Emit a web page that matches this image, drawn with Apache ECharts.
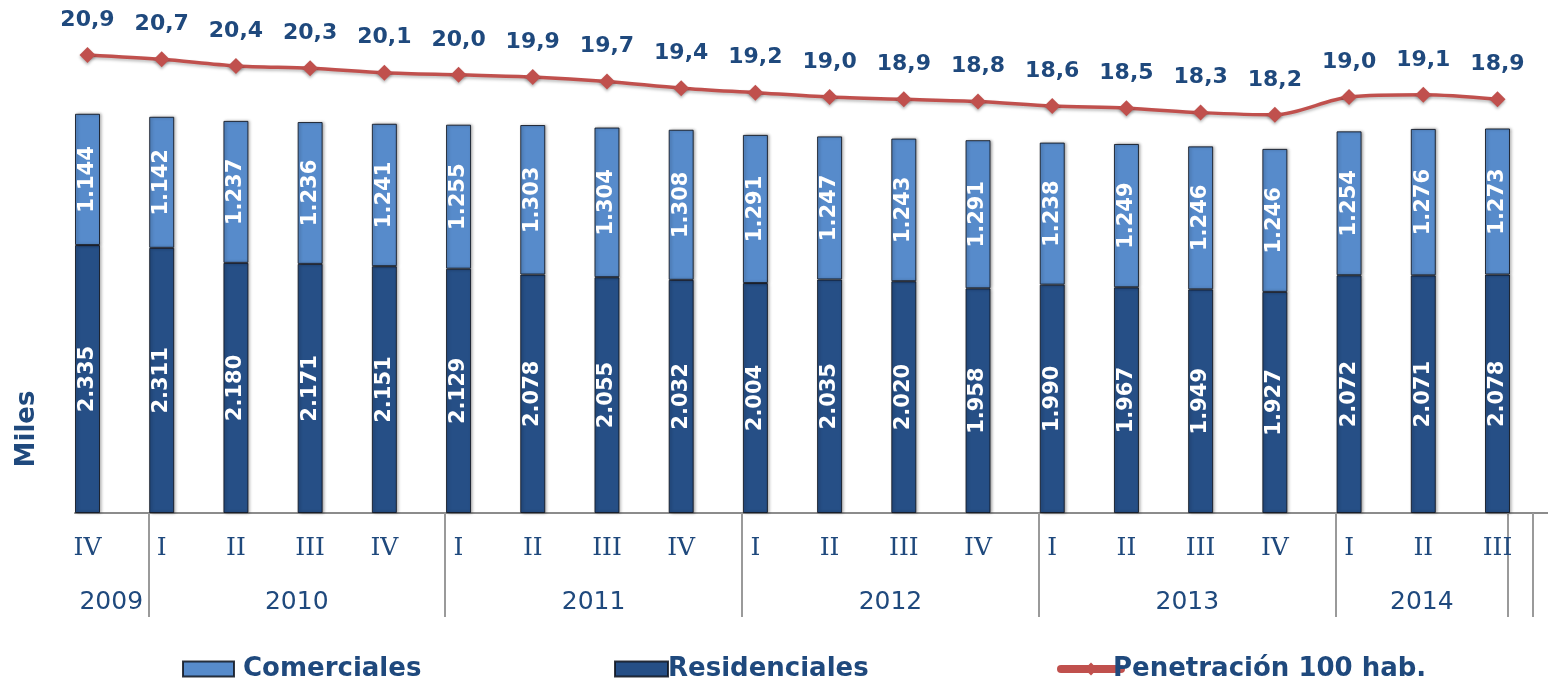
<!DOCTYPE html>
<html>
<head>
<meta charset="utf-8">
<script src="https://cdn.jsdelivr.net/npm/echarts@6/dist/echarts.min.js"></script>
<style>
html,body{margin:0;padding:0;background:#fff;}
#chart{width:1548px;height:685px;}
</style>
</head>
<body>
<div id="chart"></div>
<script>
// ---- data ----
var quarters = ['IV','I','II','III','IV','I','II','III','IV','I','II','III','IV','I','II','III','IV','I','II','III'];
var years = ['2009','2010','2011','2012','2013','2014'];
var quartersPerYear = [1,4,4,4,4,3];
var residenciales = [2335,2311,2180,2171,2151,2129,2078,2055,2032,2004,2035,2020,1958,1990,1967,1949,1927,2072,2071,2078];
var comerciales = [1144,1142,1237,1236,1241,1255,1303,1304,1308,1291,1247,1243,1291,1238,1249,1246,1246,1254,1276,1273];
var penetracion = [20.9,20.7,20.4,20.3,20.1,20.0,19.9,19.7,19.4,19.2,19.0,18.9,18.8,18.6,18.5,18.3,18.2,19.0,19.1,18.9];

// ---- layout helpers ----
var TXT = '#1F497D';
var SANS = 'DejaVu Sans';
var splitOffset = -0.18;           // separator sits just left of a year's first bar
var extraEndSplits = [19.14, 19.48]; // closing lines at the right end

var splits = [];
var idx = 0;
quartersPerYear.forEach(function (n) { splits.push(idx + splitOffset); idx += n; });
var yearCenters = [];
var bounds = splits.concat([extraEndSplits[0]]);
for (var k = 0; k < years.length; k++) yearCenters.push((bounds[k] + bounds[k + 1]) / 2);
var allTicks = splits.concat(extraEndSplits);

function thous(v) {
  var s = String(Math.round(v));
  return s.replace(/\B(?=(\d{3})+(?!\d))/g, '.');
}
function yearAt(v) {
  for (var k = 0; k < yearCenters.length; k++) if (Math.abs(yearCenters[k] - v) < 1e-6) return years[k];
  return '';
}

var chart = echarts.init(document.getElementById('chart'), null, {renderer: 'canvas'});

var gridTop = 54, gridBottom = 172;
var gl = 50.4, slot = 74.21;
var x1min = (75 - (gl + slot / 2)) / slot;
var x1max = (1548 - (gl + slot / 2)) / slot;

var barItemStyle = function (c) {
  return {color: c, borderColor: 'rgba(15,20,30,0.85)', borderWidth: 1,
          shadowColor: 'rgba(0,0,0,0.35)', shadowBlur: 3, shadowOffsetX: 1.5, shadowOffsetY: 0};
};
var barLabel = {show: true, position: 'inside', rotate: 90, color: '#fff', fontWeight: 'bold',
                fontSize: 21, fontFamily: SANS, formatter: function (p) { return thous(p.value); }};

var legendText = {fontSize: 26, fontWeight: 'bold', color: TXT, fontFamily: SANS};

var option = {
  animation: false,
  backgroundColor: '#fff',
  grid: [
    {left: gl, width: slot * quarters.length, top: gridTop, bottom: gridBottom},
    {left: 75, right: 0, top: gridTop, bottom: gridBottom}
  ],
  legend: [
    {data: [{name: 'Comerciales', icon: 'rect'}], left: 177, top: 651, itemWidth: 51, itemHeight: 15, itemGap: 0,
     textStyle: Object.assign({padding: [0, 0, 0, 4]}, legendText)},
    {data: [{name: 'Residenciales', icon: 'rect'}], left: 609, top: 651, itemWidth: 53, itemHeight: 15, itemGap: 0,
     textStyle: Object.assign({padding: [0, 0, 0, -5]}, legendText)},
    {data: ['Penetración 100 hab.'], left: 1052, top: 651, itemWidth: 60, itemHeight: 16, itemGap: 0,
     lineStyle: {width: 8, cap: 'round'},
     textStyle: Object.assign({padding: [0, 0, 0, -13]}, legendText)}
  ],
  xAxis: [
    {type: 'category', gridIndex: 0, data: quarters,
     axisLine: {show: false}, axisTick: {show: false},
     axisLabel: {color: TXT, fontFamily: 'DejaVu Serif', fontSize: 25, margin: 23, interval: 0}},
    {type: 'value', gridIndex: 1, min: x1min, max: x1max,
     axisLine: {show: true, lineStyle: {color: '#8c8c8c', width: 2}},
     axisTick: {show: true, customValues: allTicks, length: 104, lineStyle: {color: '#9a9a9a', width: 2}},
     splitLine: {show: false},
     axisLabel: {show: true, customValues: yearCenters, formatter: yearAt, color: TXT,
                 fontFamily: SANS, fontSize: 25, margin: 77}}
  ],
  yAxis: [
    {type: 'value', gridIndex: 0, min: 0, max: 4000, show: false},
    {type: 'value', gridIndex: 0, min: 0.27, max: 20.94, show: false},
    {type: 'value', gridIndex: 1, min: 0, max: 1, show: false}
  ],
  series: [
    {name: 'Residenciales', type: 'bar', stack: 'tot', xAxisIndex: 0, yAxisIndex: 0,
     barWidth: 25, data: residenciales, itemStyle: barItemStyle('#264F86'), label: barLabel, z: 2},
    {name: 'Comerciales', type: 'bar', stack: 'tot', xAxisIndex: 0, yAxisIndex: 0,
     barWidth: 25, data: comerciales, itemStyle: barItemStyle('#578BCB'), label: barLabel, z: 2},
    {name: 'Penetración 100 hab.', type: 'line', xAxisIndex: 0, yAxisIndex: 1,
     data: penetracion, smooth: 0.3, symbol: 'diamond', symbolSize: 16,
     lineStyle: {color: '#C0504D', width: 3.5, shadowColor: 'rgba(0,0,0,0.25)', shadowBlur: 3, shadowOffsetY: 2},
     itemStyle: {color: '#C0504D', shadowColor: 'rgba(0,0,0,0.3)', shadowBlur: 3, shadowOffsetY: 2},
     label: {show: true, position: 'top', distance: 16, color: TXT, fontWeight: 'bold', fontSize: 22,
             fontFamily: SANS, formatter: function (p) { return p.value.toFixed(1).replace('.', ','); }},
     z: 5}
  ],
  graphic: [
    {type: 'text', x: 27, y: 429, rotation: Math.PI / 2,
     style: {text: 'Miles', fill: TXT, font: 'bold 26px "DejaVu Sans"', textAlign: 'center', textVerticalAlign: 'middle'}}
  ]
};
chart.setOption(option);
</script>
</body>
</html>
